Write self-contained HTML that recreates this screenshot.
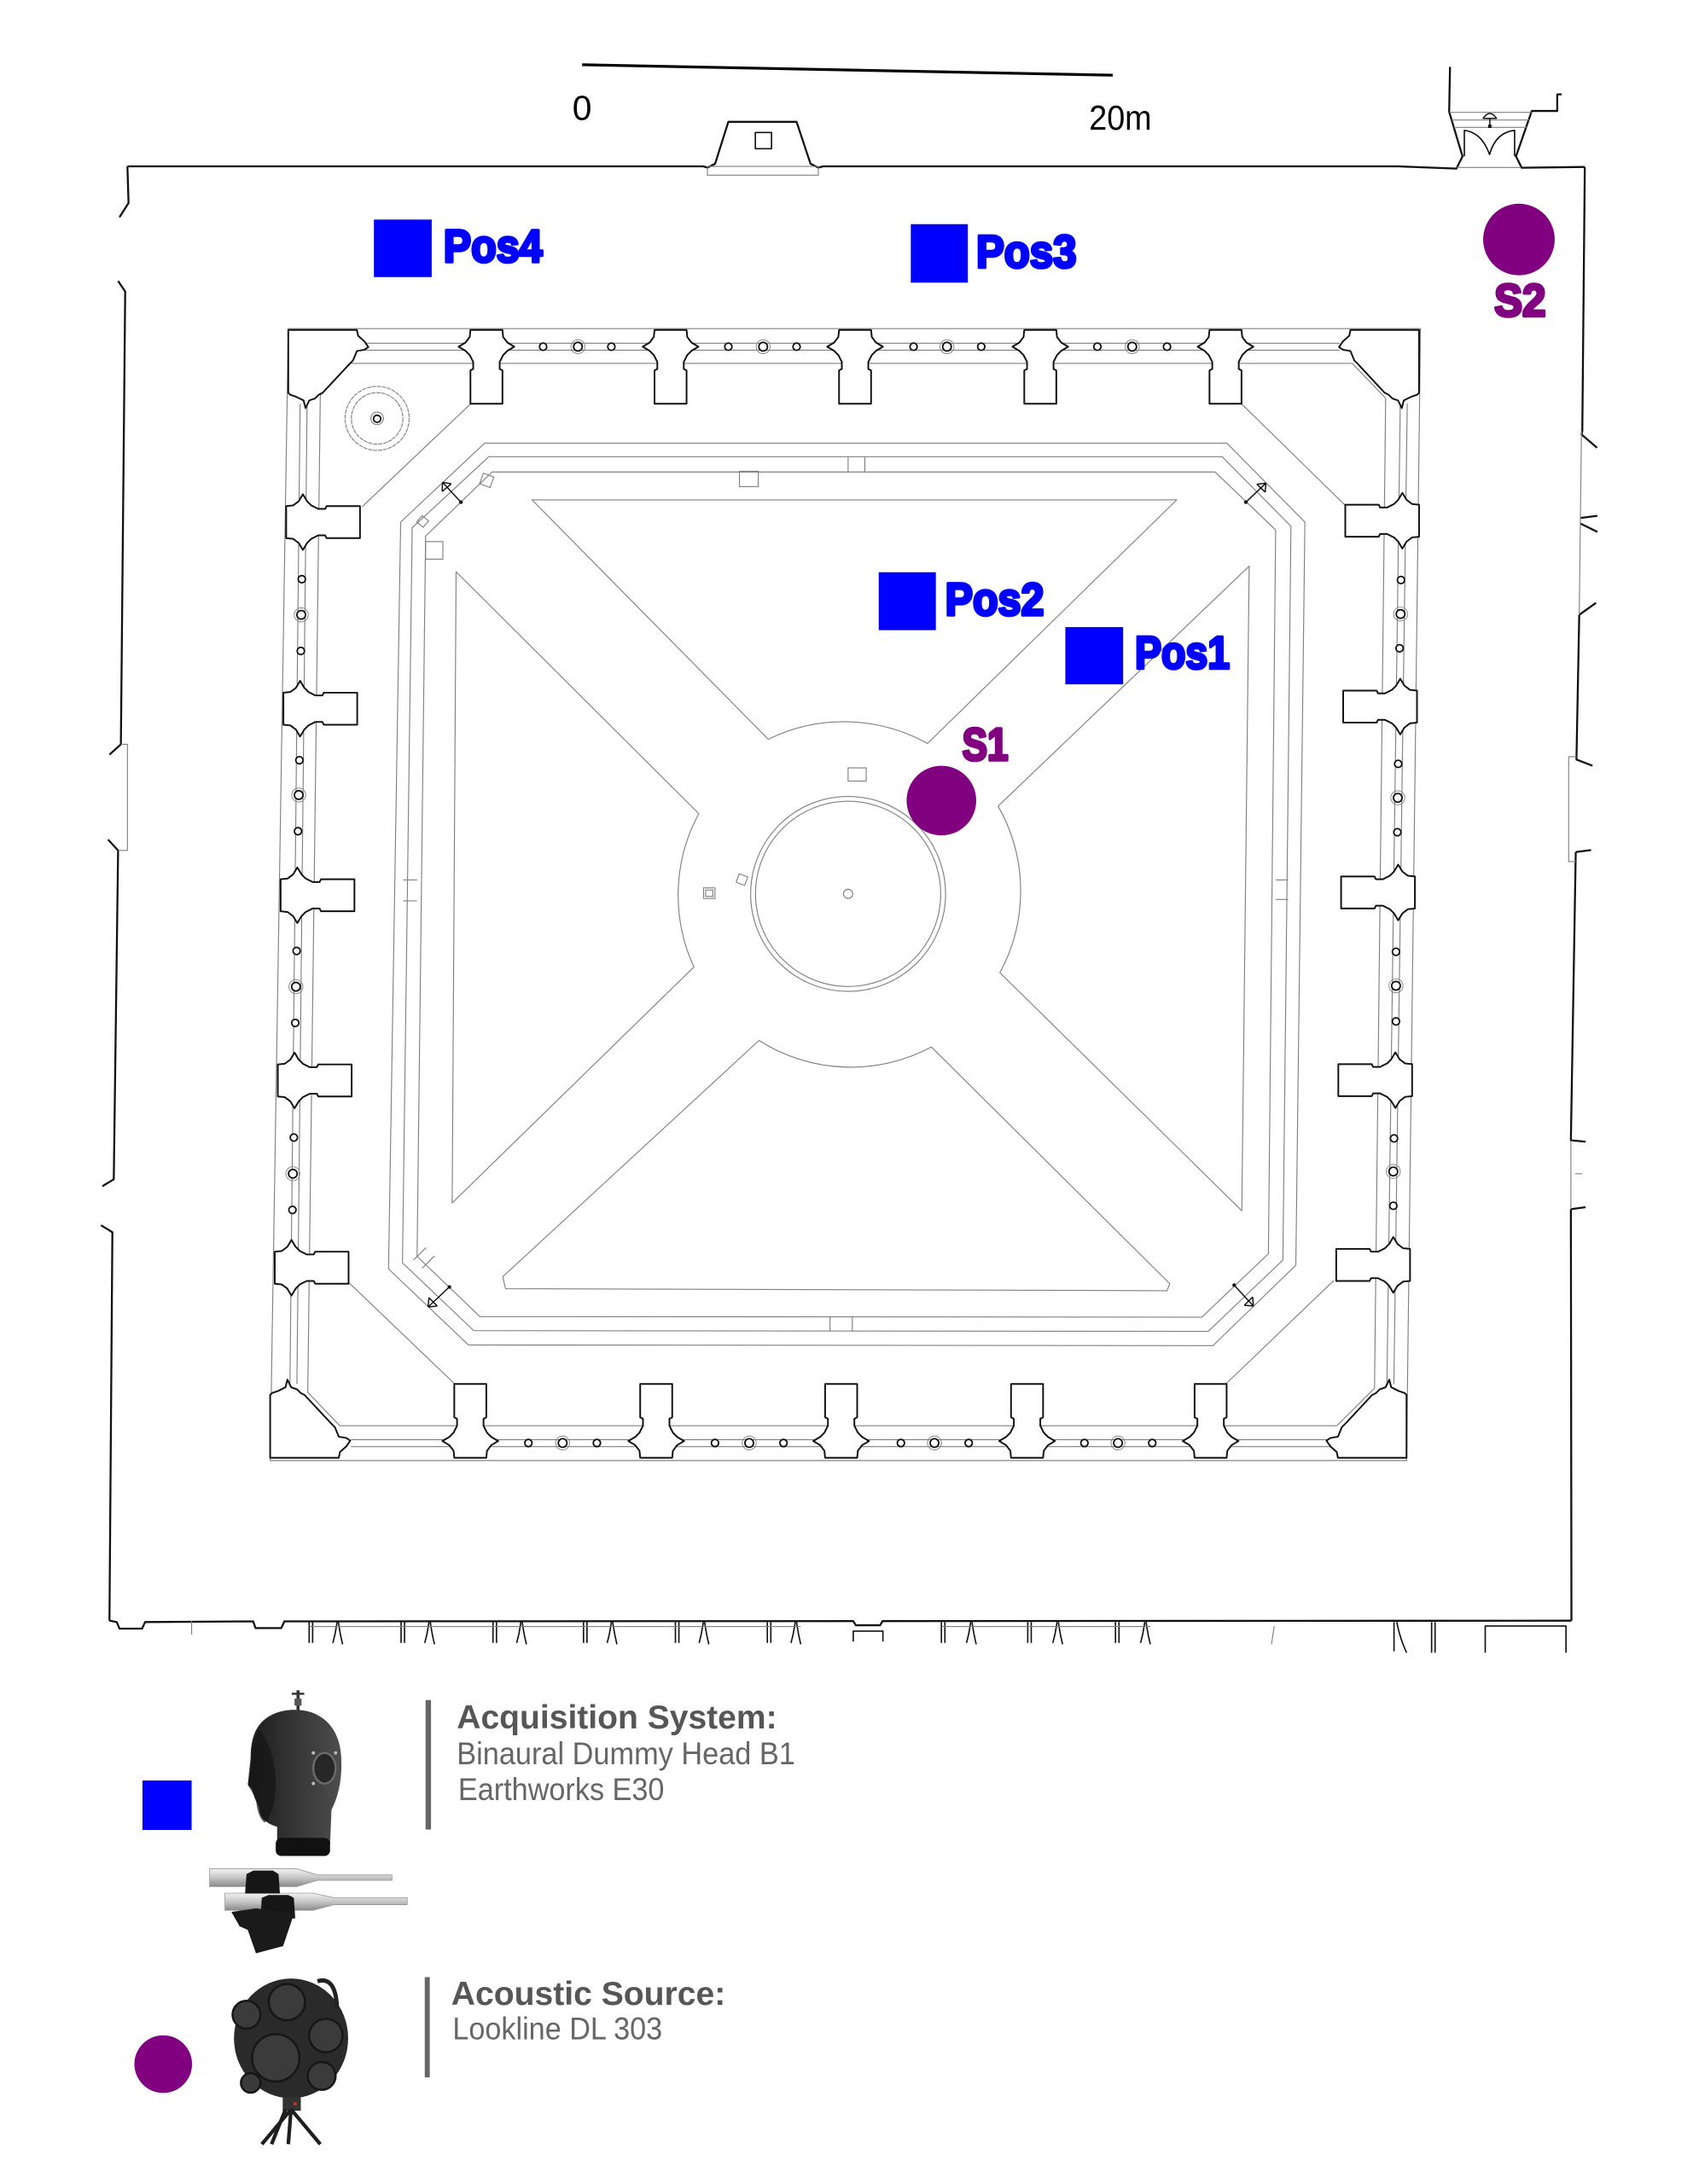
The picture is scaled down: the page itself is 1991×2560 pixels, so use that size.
<!DOCTYPE html>
<html>
<head>
<meta charset="utf-8">
<style>
html,body{margin:0;padding:0;background:#fff;}
body{width:1991px;height:2560px;overflow:hidden;}
svg{display:block;}
.g{fill:none;stroke:#808080;stroke-width:0.7;}
.k{fill:none;stroke:#111;stroke-width:1.4;stroke-linejoin:round;}
.lbl{font-family:"Liberation Sans",Arial,sans-serif;font-weight:bold;font-size:33px;stroke-width:2.2;stroke-linejoin:round;}
</style>
</head>
<body>
<svg width="1991" height="2560" viewBox="0 0 1220 1568.6" preserveAspectRatio="none" xmlns="http://www.w3.org/2000/svg">
<defs>
<path id="pier" d="M-11.5,0 L11.5,0 L12,5 L15,9 L20,12 L15,15 L12,18 L9.5,23 L9.5,28 L11.5,29 L11.5,53 L-11.5,53 L-11.5,29 L-9.5,28 L-9.5,23 L-12,18 L-15,15 L-20,12 L-15,9 L-12,5 Z" fill="#fff" stroke="#111" stroke-width="1.2" stroke-linejoin="round"/>
<polygon id="cp" points="207,237 256.3,237 257.1,241.1 261.7,245.2 264.5,249.3 261.7,251.2 256.3,252.1 253.5,258.9 250.8,261.6 231.7,282.1 228.9,283.5 226.2,286.2 222.1,287.6 219.4,293.1 218,287.6 212.5,284.9 208.4,283.5 207,282.1" fill="#fff" stroke="#111" stroke-width="1.2" stroke-linejoin="round"/>
<linearGradient id="hg" x1="0" y1="0" x2="1" y2="0"><stop offset="0" stop-color="#1c1c1c"/><stop offset="0.55" stop-color="#383838"/><stop offset="1" stop-color="#4d4d4d"/></linearGradient>
<linearGradient id="mg" x1="0" y1="0" x2="0" y2="1"><stop offset="0" stop-color="#f2f2f2"/><stop offset="0.5" stop-color="#c6c6c6"/><stop offset="1" stop-color="#8a8a8a"/></linearGradient>
</defs>

<!-- scale bar -->
<line x1="418" y1="46.5" x2="799" y2="54" stroke="#000" stroke-width="2"/>
<text x="411" y="86.2" font-family="Liberation Sans, Arial, sans-serif" font-size="25" fill="#000">0</text>
<text x="782" y="93" font-family="Liberation Sans, Arial, sans-serif" font-size="25" fill="#000" textLength="45" lengthAdjust="spacingAndGlyphs">20m</text>

<!-- outer wall -->
<path class="k" d="M91.5,119.5 L505,119.5 L508,120.4 L513.5,117.6 L523,87.5 L572,87.5 L582,117.6 L587.6,120.4 L591,119.5 L1004,119.5 L1045.8,121.1 L1050.2,112.3 L1040.6,80.3 L1041.2,48"/>
<rect x="542.4" y="95.2" width="11.6" height="11.6" class="k" style="stroke-width:1"/>
<rect x="508" y="119.5" width="79.6" height="6.3" class="g"/>
<path class="k" d="M1121.3,67.8 L1118.2,67.8 L1118.2,79.7 L1099.9,79.7 L1088.6,112.3 L1092.7,120.5 L1138,119.9"/>
<path class="g" d="M1040.6,80.7 L1099.9,80.7 M1042.3,86.2 L1098,86.2 M1044,91.5 L1096.3,91.5 M1046,120.3 L1092,120.3"/>
<path class="k" style="stroke-width:1" d="M1051.5,112.3 L1051.5,93.6 Q1064,95 1069.6,111 Q1074,95 1087.6,93.6 L1087.6,112.3"/>
<path class="k" style="stroke-width:0.9" d="M1065,85 Q1069.8,78 1074.6,85 Z M1069.8,85 L1069.8,91"/>
<rect x="1068.6" y="89.5" width="2.4" height="2.4" fill="#111"/>
<!-- right wall -->
<path class="k" d="M1138,119.9 L1136.2,309.6 L1135.6,312 L1146.8,321.6
M1134.8,372 L1147,370.5 M1134.8,376 L1147,382
M1134,441.6 L1146,433 M1134,441.6 L1132,545.5 L1143.5,550
M1131.5,612 L1142.5,610.5 M1131.5,612 L1128,819 L1138.6,820
M1128,868.5 L1138.6,867 M1128,868.5 L1128.4,1164"/>
<path class="g" d="M1135.6,309.6 L1134,441.6 M1132,543.5 L1126.4,543.5 L1126.4,618.8 L1131.5,618.8 M1128,819 L1128,868.5 M1131,843 L1136,843"/>
<!-- left wall -->
<path class="k" d="M91.5,119.5 L92.3,145.8 L85.8,156 M84.8,201.8 L89.9,209.4 L86.8,534.6 L78.6,542 M77.6,603 L84.8,610.8 L81.7,847 L73.5,852 M72.5,880 L80.7,885 L78.6,1164"/>
<path class="g" d="M86.8,534.6 L91.5,534.6 L91.5,610.8 L84.8,610.8"/>
<!-- bottom wall -->
<path class="k" d="M78.6,1164 L83.8,1165 L85.8,1169.7 L102,1169.7 L104.2,1165 L181.8,1164.5 L183.5,1169.3 L202,1169.3 L204.2,1164.5 L612.7,1164.3 L614.5,1167.3 L632,1167.3 L633.7,1164.3 L1128.4,1164"/>
<path class="k" style="stroke-width:1" d="M612.7,1179 L612.7,1171.5 L634,1171.5 L634,1179"/>
<path class="k" style="stroke-width:1" d="
M222,1165 L222,1180 M224.5,1165 L224.5,1180 M242,1165 Q241,1173 239,1180 M243,1165 Q244,1173 246,1181
M288,1165 L288,1180 M290.5,1165 L290.5,1180 M308,1165 Q307,1173 305,1180 M309,1165 Q310,1173 312,1181
M354,1165 L354,1180 M356.5,1165 L356.5,1180 M374,1165 Q373,1173 371,1180 M375,1165 Q376,1173 378,1181
M419,1165 L419,1180 M421.5,1165 L421.5,1180 M439,1165 Q438,1173 436,1180 M440,1165 Q441,1173 443,1181
M485,1165 L485,1180 M487.5,1165 L487.5,1180 M505,1165 Q504,1173 502,1180 M506,1165 Q507,1173 509,1181
M551,1165 L551,1180 M553.5,1165 L553.5,1180 M571,1165 Q570,1173 568,1180 M572,1165 Q573,1173 575,1181
M676,1165 L676,1180 M678.5,1165 L678.5,1180 M697,1165 Q696,1173 694,1180 M698,1165 Q699,1173 701,1181
M738,1165 L738,1180 M740.5,1165 L740.5,1180 M759,1165 Q758,1173 756,1180 M760,1165 Q761,1173 763,1181
M801,1165 L801,1180 M803.5,1165 L803.5,1180 M822,1165 Q821,1173 819,1180 M823,1165 Q824,1173 826,1181
M1001,1165 L1001,1186 M1003,1165 Q1005,1176 1010,1187 M1028,1165 L1028,1187 M1030.5,1165 L1030.5,1187
M1066.5,1187 L1066.5,1167.8 L1124.5,1167.8 L1124.5,1187"/>
<path class="g" d="M222,1168.2 L575,1168.2 M676,1168.2 L826,1168.2 M137.6,1164 L137.6,1174 M915,1168 L913,1181"/>

<!-- inner building outlines -->
<path class="g" d="M207,236 L1020,236 L1010,1049 L194,1049 Z"/>
<path class="g" d="M251,261 L971,261 L995,286 L987,997 L960,1024 L244,1024 L221,1000 L230,284 Z"/>
<!-- colonnade lines -->
<path class="g" d="M262,246.5 L962,246.5 M262,251.5 L962,251.5 M252,1034 L958,1034 M252,1039 L958,1039 M215.5,290 L208.2,994 M220.5,290 L213.2,994 M1005.5,290 L995.9,994 M1010.5,290 L1000.9,994"/>
<!-- octagons -->
<path class="g" d="M348,318.3 L881,318.3 L937,375 L930.5,908.7 L871,966.5 L336.4,966 L279,911.4 L287.7,375 Z"/>
<path class="g" d="M351,328 L877.6,328 L927,378 L921.2,905 L867.6,956.2 L340.2,955.7 L289,907 L296,379 Z"/>
<path class="g" d="M353.4,339 L872.5,339 L916,380.6 L910.8,900.5 L863,946 L344.6,945.6 L299.5,902.4 L305.6,385 Z"/>
<path class="g" d="M338,290 L260,364 M891.5,290 L966,363 M250.8,921.5 L326.6,994 M880.2,994 L957.9,919.6"/>
<!-- dividers -->
<path class="g" d="M609,328 L609,339 M621,328 L621,339 M596,946 L596,956 M612,946 L612,956 M289.5,632 L299.5,632 M289.5,647 L299.5,647 M916,632 L925,632 M916,646 L925,646 M297,905 L306,896 M303,911 L312,902"/>
<!-- paving X -->
<path class="g" stroke-linejoin="round" d="M382,359 L845,359 L666,534 A123,123 0 0 0 551.7,531 Z"/>
<path class="g" stroke-linejoin="round" d="M327.5,410.7 L501.8,584.4 A123,123 0 0 0 498.3,694.5 L324.7,864 Z"/>
<path class="g" stroke-linejoin="round" d="M897,406.6 L716.7,579 A123,123 0 0 1 718,698.6 L891.7,869.6 Z"/>
<path class="g" stroke-linejoin="round" d="M363,925.6 L361,917 L545,747.3 A123,123 0 0 0 668.8,752 L840,922 L838,927 Z"/>
<!-- pool -->
<circle cx="609" cy="642" r="70" class="g"/>
<circle cx="609" cy="642" r="66.5" class="g"/>
<circle cx="609" cy="642" r="3.3" class="g"/>
<!-- small squares -->
<rect x="609" y="551.5" width="13" height="9.5" class="g"/>
<rect x="505.2" y="637.7" width="8.2" height="7.6" class="g"/>
<rect x="506.7" y="639.2" width="5.2" height="4.6" class="g"/>
<rect x="529.5" y="628.5" width="6.5" height="6.5" class="g" transform="rotate(20 532.8 631.8)"/>
<rect x="531" y="338.5" width="13.5" height="11" class="g"/>
<rect x="345.5" y="341" width="8" height="8" class="g" transform="rotate(20 349.5 345)"/>
<rect x="300.5" y="371.5" width="6" height="6" class="g" transform="rotate(40 303.5 374.5)"/>
<rect x="305.6" y="389" width="12.4" height="12.6" class="g"/>
<!-- arrows -->
<g stroke="#111" stroke-width="0.9" fill="none">
<path d="M331,360.7 L317.8,346.4 M317.8,346.4 L317.5,353 M317.8,346.4 L324,347.5 M317.5,353 L324,347.5"/>
<path d="M894.6,360.7 L909,347 M909,347 L902.5,347.8 M909,347 L908.5,353.5 M902.5,347.8 L908.5,353.5"/>
<path d="M322.7,924.3 L307.4,938.7 M307.4,938.7 L308,932 M307.4,938.7 L314,938 M308,932 L314,938"/>
<path d="M886.2,923 L900,938 M900,938 L899.5,931.5 M900,938 L893.5,937.5 M899.5,931.5 L893.5,937.5"/>
</g>
<g fill="#111"><circle cx="331" cy="360.7" r="1.3"/><circle cx="894.6" cy="360.7" r="1.3"/><circle cx="322.7" cy="924.3" r="1.3"/><circle cx="886.2" cy="923" r="1.3"/></g>
<!-- well -->
<circle cx="270.8" cy="300.5" r="23" class="g" stroke-dasharray="3 0.6"/>
<circle cx="270.8" cy="300.5" r="18.5" class="g" stroke-dasharray="3 0.6"/>
<circle cx="270.8" cy="300.5" r="4.5" class="g"/>
<circle cx="270.8" cy="300.8" r="2.6" fill="none" stroke="#111" stroke-width="1.1"/>

<!-- piers -->
<use href="#pier" transform="translate(349.3,237)"/>
<use href="#pier" transform="translate(481.5,237)"/>
<use href="#pier" transform="translate(614,237)"/>
<use href="#pier" transform="translate(747,237)"/>
<use href="#pier" transform="translate(880,237)"/>
<use href="#pier" transform="translate(337.7,1047) scale(1,-1)"/>
<use href="#pier" transform="translate(471.2,1047) scale(1,-1)"/>
<use href="#pier" transform="translate(604,1047) scale(1,-1)"/>
<use href="#pier" transform="translate(737.5,1047) scale(1,-1)"/>
<use href="#pier" transform="translate(869.3,1047) scale(1,-1)"/>
<use href="#pier" transform="translate(205.5,375) rotate(-90)"/>
<use href="#pier" transform="translate(203.5,509) rotate(-90)"/>
<use href="#pier" transform="translate(201.5,643) rotate(-90)"/>
<use href="#pier" transform="translate(199.5,776) rotate(-90)"/>
<use href="#pier" transform="translate(197.3,910.5) rotate(-90)"/>
<use href="#pier" transform="translate(1019,374) rotate(90)"/>
<use href="#pier" transform="translate(1017.5,507.5) rotate(90)"/>
<use href="#pier" transform="translate(1016,641) rotate(90)"/>
<use href="#pier" transform="translate(1014,775.8) rotate(90)"/>
<use href="#pier" transform="translate(1012.5,908.5) rotate(90)"/>
<use href="#cp"/>
<use href="#cp" transform="translate(1226,0) scale(-1,1)"/>
<use href="#cp" transform="translate(-13,1284) scale(1,-1)"/>
<use href="#cp" transform="translate(1217,1284) scale(-1,-1)"/>

<!-- columns -->
<g fill="#fff" stroke="#111" stroke-width="1.1">
<circle cx="390" cy="249" r="2.6"/><circle cx="415" cy="249" r="3.1"/><circle cx="439" cy="249" r="2.6"/>
<circle cx="523" cy="249" r="2.6"/><circle cx="548" cy="249" r="3.1"/><circle cx="572" cy="249" r="2.6"/>
<circle cx="656" cy="249" r="2.6"/><circle cx="680" cy="249" r="3.1"/><circle cx="704.6" cy="249" r="2.6"/>
<circle cx="788" cy="249" r="2.6"/><circle cx="813" cy="249" r="3.1"/><circle cx="838" cy="249" r="2.6"/>
<circle cx="379.4" cy="1036.4" r="2.6"/><circle cx="404" cy="1036.4" r="3.1"/><circle cx="428.6" cy="1036.4" r="2.6"/>
<circle cx="513.4" cy="1036.4" r="2.6"/><circle cx="538" cy="1036.4" r="3.1"/><circle cx="562.6" cy="1036.4" r="2.6"/>
<circle cx="646.9" cy="1036.4" r="2.6"/><circle cx="671" cy="1036.4" r="3.1"/><circle cx="695.6" cy="1036.4" r="2.6"/>
<circle cx="778.7" cy="1036.4" r="2.6"/><circle cx="802.8" cy="1036.4" r="3.1"/><circle cx="827.4" cy="1036.4" r="2.6"/>
<circle cx="216.7" cy="416" r="2.6"/><circle cx="216.3" cy="441.6" r="3.1"/><circle cx="216" cy="467.5" r="2.6"/>
<circle cx="215" cy="546" r="2.6"/><circle cx="214.5" cy="571" r="3.1"/><circle cx="214" cy="597" r="2.6"/>
<circle cx="213" cy="683" r="2.6"/><circle cx="212.5" cy="708.7" r="3.1"/><circle cx="212" cy="734.7" r="2.6"/>
<circle cx="211" cy="817" r="2.6"/><circle cx="210.3" cy="843" r="3.1"/><circle cx="210" cy="869" r="2.6"/>
<circle cx="1006" cy="416.6" r="2.6"/><circle cx="1005.7" cy="441" r="3.1"/><circle cx="1005" cy="465.6" r="2.6"/>
<circle cx="1004" cy="548.6" r="2.6"/><circle cx="1003.7" cy="573" r="3.1"/><circle cx="1003.4" cy="597.7" r="2.6"/>
<circle cx="1002.4" cy="683.6" r="2.6"/><circle cx="1002.4" cy="708" r="3.1"/><circle cx="1002.4" cy="733.6" r="2.6"/>
<circle cx="1001" cy="817.6" r="2.6"/><circle cx="1000.5" cy="841.4" r="3.1"/><circle cx="1000.5" cy="866" r="2.6"/>
</g>
<g fill="none" stroke="#888" stroke-width="0.6">
<circle cx="415" cy="249" r="5"/><circle cx="548" cy="249" r="5"/><circle cx="680" cy="249" r="5"/><circle cx="813" cy="249" r="5"/>
<circle cx="404" cy="1036.4" r="5"/><circle cx="538" cy="1036.4" r="5"/><circle cx="671" cy="1036.4" r="5"/><circle cx="802.8" cy="1036.4" r="5"/>
<circle cx="216.3" cy="441.6" r="5"/><circle cx="214.5" cy="571" r="5"/><circle cx="212.5" cy="708.7" r="5"/><circle cx="210.3" cy="843" r="5"/>
<circle cx="1005.7" cy="441" r="5"/><circle cx="1003.7" cy="573" r="5"/><circle cx="1002.4" cy="708" r="5"/><circle cx="1000.5" cy="841.4" r="5"/>
</g>

<!-- markers -->
<rect x="268.5" y="157.7" width="41.5" height="41.3" fill="#0000ff"/>
<text x="318.5" y="188" class="lbl" fill="#0000ff" stroke="#0000ff" textLength="71" lengthAdjust="spacingAndGlyphs">Pos4</text>
<rect x="654" y="161" width="41" height="42" fill="#0000ff"/>
<text x="701" y="192" class="lbl" fill="#0000ff" stroke="#0000ff" textLength="72" lengthAdjust="spacingAndGlyphs">Pos3</text>
<rect x="631" y="411" width="41" height="41.6" fill="#0000ff"/>
<text x="678.7" y="441.7" class="lbl" fill="#0000ff" stroke="#0000ff" textLength="71" lengthAdjust="spacingAndGlyphs">Pos2</text>
<rect x="765" y="450.4" width="41.5" height="41.1" fill="#0000ff"/>
<text x="815" y="480" class="lbl" fill="#0000ff" stroke="#0000ff" textLength="68" lengthAdjust="spacingAndGlyphs">Pos1</text>
<circle cx="676" cy="575" r="25" fill="#800080"/>
<text x="691" y="546" class="lbl" fill="#800080" stroke="#800080" textLength="33" lengthAdjust="spacingAndGlyphs">S1</text>
<circle cx="1090.7" cy="172" r="25.7" fill="#800080"/>
<text x="1073" y="227" class="lbl" fill="#800080" stroke="#800080" textLength="37" lengthAdjust="spacingAndGlyphs">S2</text>

<!-- legend -->
<rect x="102.3" y="1278.8" width="35.3" height="35.5" fill="#0000ff"/>
<circle cx="117.2" cy="1482.5" r="20.7" fill="#800080"/>
<rect x="305.6" y="1221" width="3.9" height="93" fill="#666"/>
<rect x="305" y="1420" width="3.6" height="72" fill="#666"/>
<g font-family="Liberation Sans, Arial, sans-serif">
<text x="328" y="1241.5" font-size="24" font-weight="bold" fill="#565656" textLength="230" lengthAdjust="spacingAndGlyphs">Acquisition System:</text>
<text x="328" y="1267" font-size="22.5" fill="#666" textLength="243" lengthAdjust="spacingAndGlyphs">Binaural Dummy Head B1</text>
<text x="329" y="1293" font-size="22.5" fill="#666" textLength="148" lengthAdjust="spacingAndGlyphs">Earthworks E30</text>
<text x="324" y="1440" font-size="24" font-weight="bold" fill="#565656" textLength="197" lengthAdjust="spacingAndGlyphs">Acoustic Source:</text>
<text x="325" y="1464.7" font-size="22.5" fill="#666" textLength="150.6" lengthAdjust="spacingAndGlyphs">Lookline DL 303</text>
</g>

<!-- dummy head -->
<path d="M214,1214 L214,1229" stroke="#333" stroke-width="2.2"/>
<path d="M209.5,1216.5 L218.5,1216.5" stroke="#333" stroke-width="1.5"/>
<rect x="211.5" y="1220" width="5" height="5" fill="#555"/>
<path d="M199,1325 L199,1312 C192,1310 186,1306 186,1298 C184,1294 182,1290 181,1285 L178,1282 C179,1276 180,1270 180,1262 C180,1248 184,1240 190,1235 C196,1230 204,1228 212,1228 C230,1228 244,1240 245,1262 C246,1280 242,1292 238,1300 L237,1325 Z" fill="url(#hg)"/>
<path d="M186,1242 C192,1250 198,1262 198,1280 C198,1295 195,1305 190,1309 C186,1306 184,1298 184,1292 L178,1282 C179,1270 180,1255 186,1242 Z" fill="#151515" opacity="0.7"/>
<ellipse cx="233" cy="1270" rx="8" ry="11" fill="#262626" stroke="#6a6a6a" stroke-width="1.5"/>
<circle cx="225" cy="1259" r="1.2" fill="#bbb"/><circle cx="241" cy="1259" r="1.2" fill="#bbb"/><circle cx="225" cy="1281" r="1.2" fill="#bbb"/>
<rect x="198" y="1320" width="39" height="13" rx="4" fill="#111"/>
<!-- microphones -->
<path d="M150.5,1342.2 L213,1342.2 L228,1346.6 L281.5,1346.6 L281.5,1350.5 L228,1350.5 L213,1355 L150.5,1355 Z" fill="url(#mg)" stroke="#888" stroke-width="0.4"/>
<path d="M161.5,1359.7 L224.8,1359.7 L240,1363 L292.4,1363 L292.4,1368 L240,1368 L224.8,1372 L161.5,1372 Z" fill="url(#mg)" stroke="#888" stroke-width="0.4"/>
<path d="M176,1360 L177,1346 L182,1343.5 L196,1343.5 L200,1346 L201,1360 Z" fill="#161616"/>
<path d="M187,1377.9 L188,1363 L193,1361 L207,1361 L211,1363 L212,1377.9 Z" fill="#161616"/>
<polygon points="166.2,1373.2 183.8,1370.6 211.1,1374.5 203.3,1397.7 183.8,1402.9 177.9,1386.1 172,1383.5" fill="#1a1a1a"/>
<!-- loudspeaker -->
<ellipse cx="209" cy="1464" rx="41" ry="43" fill="#2a2a2a"/>
<g fill="#3b3b3b" stroke="#161616" stroke-width="1.5">
<circle cx="198" cy="1478" r="17"/>
<circle cx="206" cy="1438" r="13"/>
<circle cx="234" cy="1462" r="12"/>
<circle cx="177" cy="1447" r="10"/>
<circle cx="231" cy="1491" r="10"/>
<circle cx="180" cy="1496" r="7"/>
</g>
<path d="M228,1423 Q241,1419 242,1442" stroke="#222" stroke-width="3" fill="none"/>
<rect x="203" y="1506" width="13" height="10" fill="#333"/>
<circle cx="212" cy="1511" r="1.2" fill="#c33"/>
<path d="M209,1515 L188,1540 M209,1515 L230,1540 M209,1515 L207,1540 M205,1515 L195,1540" stroke="#1e1e1e" stroke-width="2.6" fill="none"/>
</svg>
</body>
</html>
